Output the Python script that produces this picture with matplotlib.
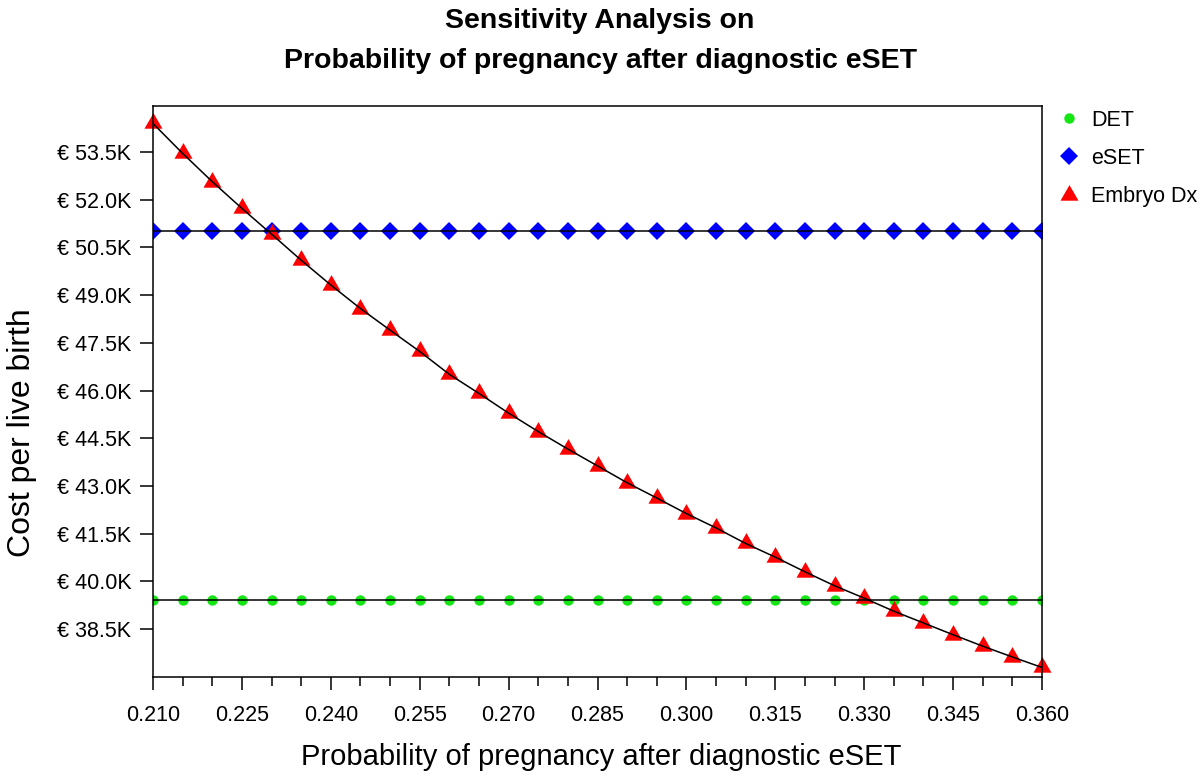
import matplotlib
matplotlib.use("Agg")
import matplotlib.pyplot as plt
from matplotlib.lines import Line2D
from matplotlib.ticker import FuncFormatter, MultipleLocator

plt.rcParams["font.family"] = ["Liberation Sans", "DejaVu Sans"]

# probability of pregnancy after diagnostic eSET
prob = [0.210, 0.215, 0.220, 0.225, 0.230, 0.235, 0.240, 0.245, 0.250, 0.255,
        0.260, 0.265, 0.270, 0.275, 0.280, 0.285, 0.290, 0.295, 0.300, 0.305,
        0.310, 0.315, 0.320, 0.325, 0.330, 0.335, 0.340, 0.345, 0.350, 0.355,
        0.360]

# cost per live birth, thousands of euro
det_cost = [39.41] * len(prob)
eset_cost = [51.03] * len(prob)
embryo_dx_cost = [54.40, 53.46, 52.57, 51.73, 50.92, 50.10, 49.32, 48.58, 47.90, 47.23,
                  46.51, 45.91, 45.29, 44.71, 44.16, 43.63, 43.10, 42.62, 42.13, 41.68,
                  41.19, 40.76, 40.30, 39.86, 39.47, 39.06, 38.69, 38.32, 37.96, 37.62,
                  37.29]

x_ticks = [0.210, 0.225, 0.240, 0.255, 0.270, 0.285, 0.300, 0.315, 0.330, 0.345, 0.360]
y_ticks = [38.5, 40.0, 41.5, 43.0, 44.5, 46.0, 47.5, 49.0, 50.5, 52.0, 53.5]

GREEN = "#14e614"
BLUE = "#0000ff"
RED = "#ff0000"
# R-style triangle, centred on its centroid
TRI = [(0, 1), (-0.866, -0.5), (0.866, -0.5)]

fig = plt.figure(figsize=(12, 7.81), dpi=100)
ax = fig.add_axes([153 / 1200, 1 - 677 / 781, (1042 - 153) / 1200, (677 - 106) / 781])

# markers first, black lines drawn over them
ax.plot(prob, det_cost, "o", color=GREEN, markersize=7.5, markeredgewidth=0, zorder=2)
ax.plot(prob, eset_cost, "D", color=BLUE, markersize=9.5, markeredgewidth=0, zorder=2)
ax.plot(prob, embryo_dx_cost, marker=TRI, linestyle="none", color=RED,
        markersize=15, markeredgewidth=0, zorder=2, clip_on=False)
for series in (det_cost, eset_cost, embryo_dx_cost):
    ax.plot(prob, series, color="black", linewidth=1.1, zorder=3)

ax.set_xlim(0.210, 0.360)
ax.set_ylim(36.99, 54.95)
ax.set_xticks(x_ticks)
ax.xaxis.set_minor_locator(MultipleLocator(0.005))
ax.xaxis.set_major_formatter(FuncFormatter(lambda v, _: f"{v:.3f}"))
ax.set_yticks(y_ticks)
ax.yaxis.set_major_formatter(FuncFormatter(lambda v, _: f"€ {v:.1f}K"))

for s in ax.spines.values():
    s.set_linewidth(1.1)
ax.tick_params(axis="both", which="major", direction="out", length=9.5, width=1.1,
               labelsize=15.5)
ax.tick_params(axis="x", which="major", pad=11)
ax.tick_params(axis="x", which="minor", direction="out", length=6.5, width=1.1)
ax.tick_params(axis="y", pad=6)

fig.text(601 / 1200, 1 - 757 / 781, "Probability of pregnancy after diagnostic eSET",
         ha="center", va="center", fontsize=21)
fig.text(22 / 1200, 1 - 433 / 781, "Cost per live birth", rotation=90,
         ha="center", va="center", fontsize=23)

fig.text(0.5, 1 - 28 / 781, "Sensitivity Analysis on", ha="center", va="baseline",
         fontsize=20.5, fontweight="bold")
fig.text(0.5, 1 - 68 / 781, "Probability of pregnancy after diagnostic eSET",
         ha="center", va="baseline", fontsize=20.5, fontweight="bold")

handles = [
    Line2D([], [], linestyle="none", marker="o", color=GREEN, markersize=7.5, markeredgewidth=0),
    Line2D([], [], linestyle="none", marker="D", color=BLUE, markersize=9.5, markeredgewidth=0),
    Line2D([], [], linestyle="none", marker=TRI, color=RED, markersize=15, markeredgewidth=0),
]
fig.legend(handles, ["DET", "eSET", "Embryo Dx"], loc="upper left",
           bbox_to_anchor=(1050 / 1200, 1 - 101 / 781), frameon=False, fontsize=15.5,
           handlelength=1.0, handletextpad=0.5, labelspacing=0.8, borderaxespad=0)

fig.savefig("out.png", dpi=100)
